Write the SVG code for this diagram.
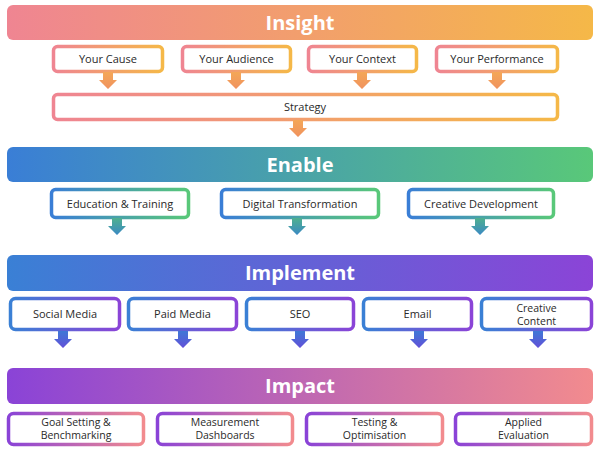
<svg xmlns="http://www.w3.org/2000/svg" width="600" height="454" viewBox="0 0 600 454">
<defs>
<linearGradient id="gIns" x1="0" y1="0" x2="1" y2="0"><stop offset="0" stop-color="#EF8592"/><stop offset="1" stop-color="#F5B848"/></linearGradient>
<linearGradient id="gEna" x1="0" y1="0" x2="1" y2="0"><stop offset="0" stop-color="#3A7ED6"/><stop offset="1" stop-color="#59C879"/></linearGradient>
<linearGradient id="gImp" x1="0" y1="0" x2="1" y2="0"><stop offset="0" stop-color="#3A80D5"/><stop offset="1" stop-color="#8B44D7"/></linearGradient>
<linearGradient id="gAct" x1="0" y1="0" x2="1" y2="0"><stop offset="0" stop-color="#8A43D7"/><stop offset="1" stop-color="#F28B8E"/></linearGradient>
<linearGradient id="aIns" x1="0" y1="0" x2="0" y2="1"><stop offset="0" stop-color="#F4A758"/><stop offset="1" stop-color="#F0925E"/></linearGradient>
<linearGradient id="aEna" x1="0" y1="0" x2="0" y2="1"><stop offset="0" stop-color="#4FB08F"/><stop offset="1" stop-color="#3B89C4"/></linearGradient>
<linearGradient id="aImp" x1="0" y1="0" x2="0" y2="1"><stop offset="0" stop-color="#3F78D6"/><stop offset="1" stop-color="#6250D8"/></linearGradient>
<path id="arr" d="M-5,0 H5 V8 H9 L0,17 L-9,8 H-5 Z"/>
<style>
.bar{stroke:none}
.title{font-family:"Open Sans","Liberation Sans",sans-serif;font-weight:700;font-size:20px;fill:#fff;text-anchor:middle}
.box{fill:#fff;stroke-width:3.5}
.lbl{font-family:"Open Sans","Liberation Sans",sans-serif;font-size:11px;fill:#2a2a2a;text-anchor:middle}
.l2{font-size:10.5px}
</style>
</defs>
<rect width="600" height="454" fill="#fff"/>

<g id="insight">
<rect class="bar" x="7" y="5" width="586" height="35" rx="6" fill="url(#gIns)"/>
<text class="title" x="300" y="29.5">Insight</text>
</g>
<g id="your-cause"><rect class="box" x="53.5" y="46.5" width="109" height="25" rx="4" stroke="url(#gIns)"/><text class="lbl" x="108" y="63">Your Cause</text></g>
<g id="your-audience"><rect class="box" x="182.5" y="46.5" width="108" height="25" rx="4" stroke="url(#gIns)"/><text class="lbl" x="236.5" y="63">Your Audience</text></g>
<g id="your-context"><rect class="box" x="308.5" y="46.5" width="108" height="25" rx="4" stroke="url(#gIns)"/><text class="lbl" x="362.5" y="63">Your Context</text></g>
<g id="your-performance"><rect class="box" x="436.5" y="46.5" width="121" height="25" rx="4" stroke="url(#gIns)"/><text class="lbl" x="497" y="63">Your Performance</text></g>
<g id="strategy"><rect class="box" x="53.5" y="94.5" width="504" height="25" rx="4" stroke="url(#gIns)"/><text class="lbl" x="305" y="111">Strategy</text></g>

<g id="enable">
<rect class="bar" x="7" y="147" width="586" height="35" rx="6" fill="url(#gEna)"/>
<text class="title" x="300" y="171.5">Enable</text>
</g>
<g id="education"><rect class="box" x="51.5" y="189.5" width="137" height="28" rx="4" stroke="url(#gEna)"/><text class="lbl" x="120" y="207.5">Education &amp; Training</text></g>
<g id="digital"><rect class="box" x="221.5" y="189.5" width="157" height="28" rx="4" stroke="url(#gEna)"/><text class="lbl" x="300" y="207.5">Digital Transformation</text></g>
<g id="creative-dev"><rect class="box" x="408.5" y="189.5" width="145" height="28" rx="4" stroke="url(#gEna)"/><text class="lbl" x="481" y="207.5">Creative Development</text></g>

<g id="implement">
<rect class="bar" x="7" y="255" width="586" height="36" rx="6" fill="url(#gImp)"/>
<text class="title" x="300" y="279.5">Implement</text>
</g>
<g id="social"><rect class="box" x="10.5" y="298.5" width="109" height="31" rx="5" stroke="url(#gImp)"/><text class="lbl" x="65" y="318">Social Media</text></g>
<g id="paid"><rect class="box" x="128.5" y="298.5" width="108" height="31" rx="5" stroke="url(#gImp)"/><text class="lbl" x="182.5" y="318">Paid Media</text></g>
<g id="seo"><rect class="box" x="246.5" y="298.5" width="107" height="31" rx="5" stroke="url(#gImp)"/><text class="lbl" x="300" y="318">SEO</text></g>
<g id="email"><rect class="box" x="363.5" y="298.5" width="108" height="31" rx="5" stroke="url(#gImp)"/><text class="lbl" x="417.5" y="318">Email</text></g>
<g id="creative-content"><rect class="box" x="481.5" y="298.5" width="110" height="31" rx="5" stroke="url(#gImp)"/><text class="lbl l2" x="536.5" y="311.5">Creative</text><text class="lbl l2" x="536.5" y="325">Content</text></g>

<g id="impact">
<rect class="bar" x="7" y="368" width="586" height="36" rx="6" fill="url(#gAct)"/>
<text class="title" x="300" y="392.5">Impact</text>
</g>
<g id="goal"><rect class="box" x="8.5" y="413.5" width="135" height="31" rx="5" stroke="url(#gAct)"/><text class="lbl l2" x="76" y="425.5">Goal Setting &amp;</text><text class="lbl l2" x="76" y="439">Benchmarking</text></g>
<g id="measurement"><rect class="box" x="157.5" y="413.5" width="135" height="31" rx="5" stroke="url(#gAct)"/><text class="lbl l2" x="225" y="425.5">Measurement</text><text class="lbl l2" x="225" y="439">Dashboards</text></g>
<g id="testing"><rect class="box" x="306.5" y="413.5" width="136" height="31" rx="5" stroke="url(#gAct)"/><text class="lbl l2" x="374.5" y="425.5">Testing &amp;</text><text class="lbl l2" x="374.5" y="439">Optimisation</text></g>
<g id="applied"><rect class="box" x="455.5" y="413.5" width="136" height="31" rx="5" stroke="url(#gAct)"/><text class="lbl l2" x="523.5" y="425.5">Applied</text><text class="lbl l2" x="523.5" y="439">Evaluation</text></g>

<g id="connectors">
<use href="#arr" x="108" y="72" fill="url(#aIns)"/>
<use href="#arr" x="236" y="72" fill="url(#aIns)"/>
<use href="#arr" x="362" y="72" fill="url(#aIns)"/>
<use href="#arr" x="497" y="72" fill="url(#aIns)"/>
<use href="#arr" x="298" y="120" fill="url(#aIns)"/>
<use href="#arr" x="117" y="218" fill="url(#aEna)"/>
<use href="#arr" x="297" y="218" fill="url(#aEna)"/>
<use href="#arr" x="480" y="218" fill="url(#aEna)"/>
<use href="#arr" x="63" y="331" fill="url(#aImp)"/>
<use href="#arr" x="183" y="331" fill="url(#aImp)"/>
<use href="#arr" x="300" y="331" fill="url(#aImp)"/>
<use href="#arr" x="419" y="331" fill="url(#aImp)"/>
<use href="#arr" x="538" y="331" fill="url(#aImp)"/>
</g>
</svg>
